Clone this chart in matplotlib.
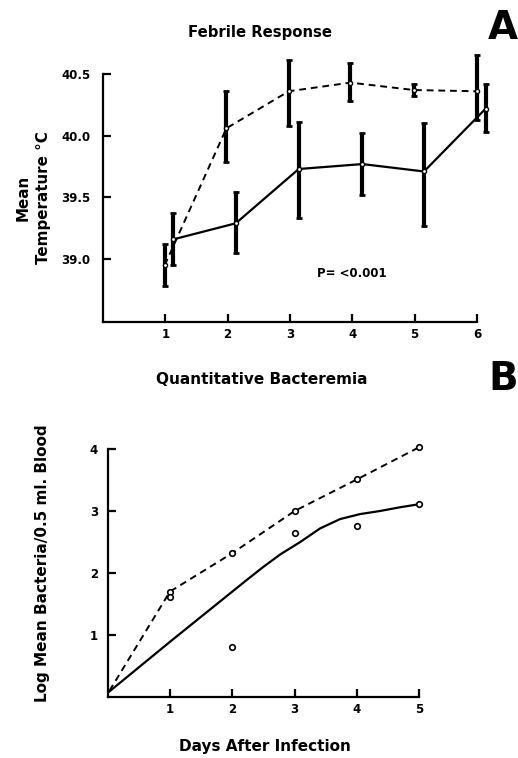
import matplotlib
matplotlib.use("Agg")
import matplotlib.pyplot as plt

plt.rcParams['font.family'] = ['DejaVu Sans']
plt.rcParams['font.weight'] = 'bold'

# Panel A - febrile response (mean temperature, with SE bars)
days_a_dash = [0.99, 1.98, 2.98, 3.97, 4.99, 6.00]
temp_dash = [38.95, 40.06, 40.36, 40.43, 40.37, 40.36]
temp_dash_lo = [38.78, 39.79, 40.08, 40.28, 40.32, 40.13]
temp_dash_hi = [39.12, 40.36, 40.61, 40.59, 40.42, 40.65]

days_a_solid = [1.13, 2.13, 3.14, 4.16, 5.15, 6.14]
temp_solid = [39.16, 39.29, 39.73, 39.77, 39.71, 40.22]
temp_solid_lo = [38.95, 39.05, 39.33, 39.52, 39.27, 40.03]
temp_solid_hi = [39.37, 39.54, 40.11, 40.02, 40.10, 40.42]

a_xticks = [1, 2, 3, 4, 5, 6]
a_yticks = [39.0, 39.5, 40.0, 40.5]

# Panel B - quantitative bacteremia
days_b_dash = [0.03, 1, 2, 3, 4, 5]
bact_dash = [0.10, 1.70, 2.32, 3.00, 3.51, 4.03]

days_b_pts = [1, 2, 3, 4, 5]
bact_pts = [1.62, 0.81, 2.65, 2.76, 3.12]

# smooth curve drawn through the solid group
days_b_curve = [0.03, 1.0, 2.0, 2.26, 2.5, 2.77, 3.09, 3.41, 3.73, 4.05, 4.37, 4.69, 5.0]
bact_curve = [0.09, 0.89, 1.70, 1.91, 2.10, 2.30, 2.50, 2.72, 2.87, 2.95, 3.00, 3.06, 3.11]

b_xticks = [1, 2, 3, 4, 5]
b_yticks = [1, 2, 3, 4]

W, H = 518, 758
fig = plt.figure(figsize=(W / 100, H / 100), dpi=100)


def style_axes(ax, pad_y, pad_x):
    for s in ['top', 'right']:
        ax.spines[s].set_visible(False)
    for s in ['left', 'bottom']:
        ax.spines[s].set_linewidth(1.6)
    ax.tick_params(direction='in', length=6, width=1.6, labelsize=8.5)
    ax.tick_params(axis='y', pad=pad_y)
    ax.tick_params(axis='x', pad=pad_x)


# ---- A ----
axA = fig.add_axes([103 / W, 1 - 322 / H, 374 / W, 248 / H])
axA.errorbar(days_a_dash, temp_dash,
             yerr=[[m - lo for m, lo in zip(temp_dash, temp_dash_lo)],
                   [hi - m for m, hi in zip(temp_dash, temp_dash_hi)]],
             fmt='none', ecolor='black', elinewidth=3, capsize=2.5, capthick=2, clip_on=False)
axA.errorbar(days_a_solid, temp_solid,
             yerr=[[m - lo for m, lo in zip(temp_solid, temp_solid_lo)],
                   [hi - m for m, hi in zip(temp_solid, temp_solid_hi)]],
             fmt='none', ecolor='black', elinewidth=3, capsize=2.5, capthick=2, clip_on=False)
axA.plot(days_a_dash, temp_dash, color='black', lw=1.4, dashes=(3.5, 2.5),
         marker='o', ms=3, mfc='white', mec='black', mew=1, clip_on=False)
axA.plot(days_a_solid, temp_solid, color='black', lw=1.6,
         marker='o', ms=3, mfc='white', mec='black', mew=1, clip_on=False)
axA.set_xlim(0, 6)
axA.set_ylim(38.49, 40.5)
axA.set_xticks(a_xticks)
axA.set_yticks(a_yticks)
axA.set_yticklabels(['%.1f' % v for v in a_yticks])
style_axes(axA, 9, 4)
axA.text(3.43, 38.88, 'P= <0.001', fontsize=8.5, fontweight='bold', va='center', ha='left')

fig.text(260 / W, 1 - 32 / H, 'Febrile Response', fontsize=10.7, fontweight='bold',
         ha='center', va='center')
fig.text(503 / W, 1 - 28 / H, 'A', fontsize=28, fontweight='bold', ha='center', va='center')
fig.text(33 / W, 1 - 198 / H, 'Mean\nTemperature \u00b0C', fontsize=10.9, fontweight='bold',
         rotation=90, ha='center', va='center', multialignment='center', linespacing=1.45)

# ---- B ----
axB = fig.add_axes([107.6 / W, 1 - 697 / H, 311.7 / W, 248 / H])
axB.plot(days_b_curve, bact_curve, color='black', lw=1.6, clip_on=False,
         solid_joinstyle='round')
axB.plot(days_b_dash, bact_dash, color='black', lw=1.4, dashes=(3.5, 2.5), clip_on=False)
axB.plot(days_b_dash[1:], bact_dash[1:], 'o', ms=4, mfc='white', mec='black', mew=1.2,
         clip_on=False)
axB.plot(days_b_pts, bact_pts, 'o', ms=4, mfc='white', mec='black', mew=1.2, clip_on=False)
axB.set_xlim(0, 5)
axB.set_ylim(0, 4)
axB.set_xticks(b_xticks)
axB.set_yticks(b_yticks)
style_axes(axB, 7, 4)

fig.text(262 / W, 1 - 380 / H, 'Quantitative Bacteremia', fontsize=11, fontweight='bold',
         ha='center', va='center')
fig.text(503 / W, 1 - 379 / H, 'B', fontsize=28, fontweight='bold', ha='center', va='center')
fig.text(43 / W, 1 - 563 / H, 'Log Mean Bacteria/0.5 ml. Blood', fontsize=11,
         fontweight='bold', rotation=90, ha='center', va='center')
fig.text(265 / W, 1 - 747 / H, 'Days After Infection', fontsize=11, fontweight='bold',
         ha='center', va='center')

fig.savefig('out.png', dpi=100)
